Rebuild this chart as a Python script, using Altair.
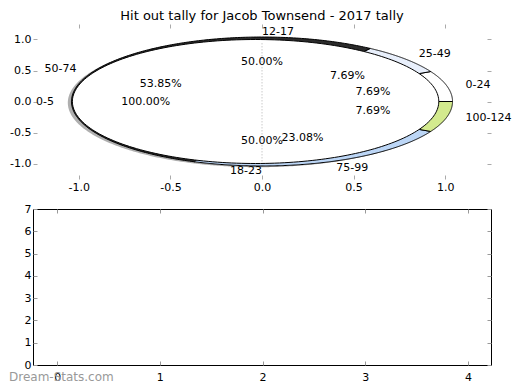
import numpy as np
import pandas as pd
import altair as alt

TITLE = "Hit out tally for Jacob Townsend - 2017 tally"
WATERMARK = "Dream-Stats.com"

# outer pie (hit-out ranges)
outer_labels = ["0-24", "25-49", "50-74", "75-99", "100-124"]
outer_counts = [1, 1, 7, 3, 1]
outer_colors = ["#ffffff", "#e8effb", "#2b2b2b", "#bcd6f6", "#d3ea8e"]

# middle pie
middle_labels = ["12-17", "18-23"]
middle_counts = [1, 1]

# inner pie
inner_labels = ["0-5"]
inner_counts = [1]
inner_colors = ["#ffffff"]

pie_ticks = [-1.0, -0.5, 0.0, 0.5, 1.0]
empty_x_ticks = [0, 1, 2, 3, 4]
empty_y_ticks = [0, 1, 2, 3, 4, 5, 6, 7]

W = 458
H_TOP = 155
H_BOT = 156


def wedge_table(name, labels, counts, colors, radius, explode, offset=(0.0, 0.0), n=241):
    total = float(sum(counts))
    poly, text = [], []
    start = 0.0
    for k, (lab, cnt) in enumerate(zip(labels, counts)):
        frac = cnt / total
        end = start + 360.0 * frac
        mid = np.deg2rad(0.5 * (start + end))
        cx = offset[0] + explode * np.cos(mid)
        cy = offset[1] + explode * np.sin(mid)
        if colors is not None:
            ang = np.deg2rad(np.linspace(start, end, n))
            xs = (cx + radius * np.cos(ang)).tolist()
            ys = (cy + radius * np.sin(ang)).tolist()
            if frac < 1.0:
                xs = [cx] + xs + [cx]
                ys = [cy] + ys + [cy]
            for i, (x, y) in enumerate(zip(xs, ys)):
                poly.append({"wedge": f"{name}{k}", "i": i, "x": x, "y": y, "fill": colors[k]})
        lx = cx + 1.1 * radius * np.cos(mid)
        ly = cy + 1.1 * radius * np.sin(mid)
        text.append({"text": lab, "x": lx, "y": ly, "kind": "left" if lx > 0 else "right"})
        text.append({"text": f"{100 * frac:.2f}%",
                     "x": cx + 0.6 * radius * np.cos(mid),
                     "y": cy + 0.6 * radius * np.sin(mid), "kind": "center"})
        start = end
    return poly, text


R_OUT, R_IN, EXP_IN = 1.04, 1.0, 0.035
shadow_poly, _ = wedge_table("s", outer_labels, outer_counts, ["#4d4d4d"] * 5, R_OUT, 0.0, offset=(-0.02, -0.02))
outer_poly, outer_text = wedge_table("o", outer_labels, outer_counts, outer_colors, R_OUT, 0.0)
_, middle_text = wedge_table("m", middle_labels, middle_counts, None, 0.97, 0.058)
inner_poly, inner_text = wedge_table("i", inner_labels, inner_counts, inner_colors, R_IN, EXP_IN)

texts = pd.DataFrame(outer_text + middle_text + inner_text)
divider = pd.DataFrame({"x": [0.0], "y": [-(R_IN - EXP_IN)], "y2": [R_IN - EXP_IN]})

sx = alt.Scale(domain=[-1.25, 1.25], nice=False, zero=False)
sy = alt.Scale(domain=[-1.25, 1.25], nice=False, zero=False)

TICK = "#aaaaaa"
lab_expr = "replace(datum.label, '\u2212', '-')"
ax_bottom = alt.Axis(values=pie_ticks, format=".1f", labelExpr=lab_expr, orient="bottom", offset=-4,
                     tickSize=4, tickColor=TICK, domain=False, grid=False, labelPadding=2,
                     labelFontSize=11, labelColor="black", labelFlush=False, title=None)
ax_left = alt.Axis(values=pie_ticks, format=".1f", labelExpr=lab_expr, orient="left", offset=-4,
                   tickSize=4, tickColor=TICK, domain=False, grid=False, labelPadding=2,
                   labelFontSize=11, labelColor="black", labelFlush=False, title=None)
ax_top = alt.Axis(values=pie_ticks, orient="top", offset=-4, tickSize=4, tickColor=TICK,
                  domain=False, grid=False, labels=False, title=None)
ax_right = alt.Axis(values=pie_ticks, orient="right", offset=-4, tickSize=4, tickColor=TICK,
                    domain=False, grid=False, labels=False, title=None)


def poly_layer(rows, xaxis, yaxis, **mk):
    return alt.Chart(pd.DataFrame(rows)).mark_line(**mk).encode(
        x=alt.X("x:Q", scale=sx, axis=xaxis),
        y=alt.Y("y:Q", scale=sy, axis=yaxis),
        fill=alt.Fill("fill:N", scale=None),
        detail="wedge:N",
        order=alt.Order("i:Q"),
    )


shadow_layer = poly_layer(shadow_poly, ax_bottom, ax_left, strokeOpacity=0, fillOpacity=0.45)
outer_layer = poly_layer(outer_poly, ax_top, ax_right, stroke="black", strokeWidth=1)
inner_layer = poly_layer(inner_poly, None, None, stroke="black", strokeWidth=1)

divider_layer = alt.Chart(divider).mark_rule(color="#b0b0b0", strokeDash=[1, 2], strokeWidth=1).encode(
    x=alt.X("x:Q", scale=sx, axis=None),
    y=alt.Y("y:Q", scale=sy, axis=None),
    y2="y2:Q",
)


def text_layer(kind, align):
    return alt.Chart(texts).transform_filter(alt.datum.kind == kind).mark_text(
        align=align, baseline="middle", fontSize=11, color="black"
    ).encode(
        x=alt.X("x:Q", scale=sx, axis=None),
        y=alt.Y("y:Q", scale=sy, axis=None),
        text="text:N",
    )


title_layer = alt.Chart(pd.DataFrame({"t": [TITLE]})).mark_text(
    align="center", baseline="middle", fontSize=13, color="black"
).encode(x=alt.value(W / 2), y=alt.value(-8), text="t:N")

top = alt.layer(
    shadow_layer, outer_layer, inner_layer, divider_layer,
    text_layer("left", "left"), text_layer("right", "right"), text_layer("center", "center"),
    title_layer,
).resolve_axis(x="independent", y="independent").properties(
    width=W, height=H_TOP, view=alt.ViewBackground(stroke=None)
)

# bottom empty axes
ex = alt.Scale(domain=[-0.235, 4.225], nice=False, zero=False)
ey = alt.Scale(domain=[0, 7], nice=False, zero=False)
BT = "#999999"
empty_df = pd.DataFrame({"x": empty_x_ticks, "y": [0] * len(empty_x_ticks)})
b1 = alt.Chart(empty_df).mark_point(opacity=0).encode(
    x=alt.X("x:Q", scale=ex, axis=alt.Axis(values=empty_x_ticks, format="d", orient="bottom", offset=-4,
                                           tickSize=4, tickColor=BT, domain=False, grid=False,
                                           labelPadding=6, labelFontSize=11, labelColor="black",
                                           labelFlush=False, title=None)),
    y=alt.Y("y:Q", scale=ey, axis=alt.Axis(values=empty_y_ticks, format="d", orient="left", offset=-4,
                                           tickSize=4, tickColor=BT, domain=False, grid=False,
                                           labelPadding=2, labelFontSize=11, labelColor="black",
                                           labelFlush=False, title=None)),
)
b2 = alt.Chart(empty_df).mark_point(opacity=0).encode(
    x=alt.X("x:Q", scale=ex, axis=alt.Axis(values=empty_x_ticks, orient="top", offset=-4, tickSize=4,
                                           tickColor=BT, domain=False, grid=False, labels=False, title=None)),
    y=alt.Y("y:Q", scale=ey, axis=alt.Axis(values=empty_y_ticks, orient="right", offset=-4, tickSize=4,
                                           tickColor=BT, domain=False, grid=False, labels=False, title=None)),
)
wm = alt.Chart(pd.DataFrame({"t": [WATERMARK]})).mark_text(
    align="left", baseline="middle", fontSize=12, color="#999999"
).encode(x=alt.value(-24), y=alt.value(H_BOT + 12), text="t:N")

bottom = alt.layer(b1, b2, wm).resolve_axis(x="independent", y="independent").properties(
    width=W, height=H_BOT, view=alt.ViewBackground(stroke="black", strokeWidth=1)
)

chart = alt.vconcat(top, bottom, spacing=30, bounds="flush").properties(
    padding={"top": 2, "left": 0, "right": 0, "bottom": 0},
).configure(font="DejaVu Sans", background="white")

chart.save("out.html", embed_options={"renderer": "svg", "actions": False})
